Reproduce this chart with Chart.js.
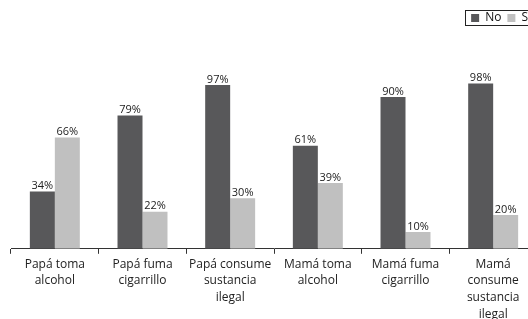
<!DOCTYPE html>
<html>
<head>
<meta charset="utf-8">
<script src="https://cdn.jsdelivr.net/npm/chart.js@4/dist/chart.umd.min.js"></script>
<style>
html,body{margin:0;padding:0;background:#fff;overflow:hidden;}
#wrap{width:545px;height:319px;}
</style>
</head>
<body>
<div id="wrap"><canvas id="chart" width="545" height="319"></canvas></div>
<script>
const categories = [
["Papá toma","alcohol"],
["Papá fuma","cigarrillo"],
["Papá consume","sustancia","ilegal"],
["Mamá toma","alcohol"],
["Mamá fuma","cigarrillo"],
["Mamá","consume","sustancia","ilegal"]
]
const noValues = [34,79,97,61,90,98]
const siValues = [66,22,30,39,10,20]
const seriesNames = ["No","Sí"]

const FONT = "'Open Sans', sans-serif"

// labels above bars
const valueLabels = {
id:"valueLabels",
afterDatasetsDraw(chart){
const ctx = chart.ctx
ctx.save()
ctx.font = "11px " + FONT
ctx.fillStyle = "#222"
ctx.textAlign = "center"
ctx.textBaseline = "bottom"
chart.data.datasets.forEach((ds,i)=>{
chart.getDatasetMeta(i).data.forEach((bar,j)=>{
ctx.fillText(ds.data[j] + "%", bar.x, bar.y)
})
})
ctx.restore()
}
}

// frame round the legend, plus space under it
const legendBox = {
id:"legendBox",
beforeInit(chart){
const fit = chart.legend.fit
chart.legend.fit = function(){
fit.call(this)
this.height += 46
}
},
afterDraw(chart){
const boxes = chart.legend.legendHitBoxes
if(!boxes || !boxes.length) return
const ctx = chart.ctx
const b = boxes[0]
ctx.save()
ctx.strokeStyle = "#222"
ctx.lineWidth = 1
ctx.strokeRect(Math.round(b.left) - 5.5, Math.round(b.top + b.height/2) - 7.5, 200, 15)
ctx.restore()
}
}

new Chart(document.getElementById("chart"),{
type:"bar",
data:{
labels: categories,
datasets:[
{label:seriesNames[0], data:noValues, backgroundColor:"#58585a"},
{label:seriesNames[1], data:siValues, backgroundColor:"#c0c0c0"}
]
},
options:{
responsive:false,
animation:false,
layout:{padding:{left:11,right:8,top:6,bottom:-6}},
datasets:{bar:{categoryPercentage:0.57,barPercentage:1.0}},
plugins:{
legend:{
display:true,
position:"top",
align:"end",
labels:{boxWidth:8,boxHeight:8,padding:6,color:"#111",font:{family:FONT,size:12}}
},
tooltip:{enabled:false}
},
scales:{
x:{
offset:true,
border:{display:true,color:"#333",width:1},
grid:{display:true,drawOnChartArea:false,offset:true,tickLength:5,color:"#333"},
ticks:{color:"#222",font:{family:FONT,size:12,lineHeight:1.4},maxRotation:0,autoSkip:false,padding:2}
},
y:{
display:false,
min:0,
max:100
}
}
},
plugins:[valueLabels,legendBox]
})
</script>
</body>
</html>
